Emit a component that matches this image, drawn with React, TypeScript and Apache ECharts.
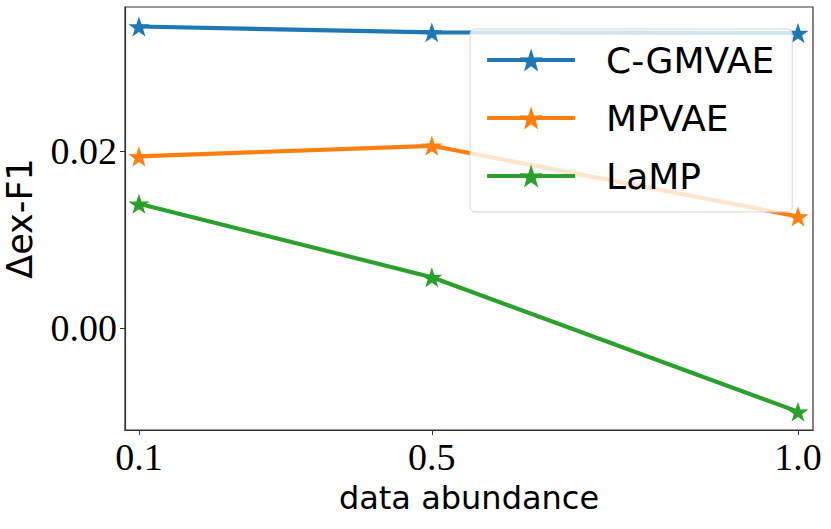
import React, { useEffect, useRef } from "react";
import * as echarts from "echarts";

const xValues = [0.1, 0.5, 1.0];
const seriesNames = ["C-GMVAE", "MPVAE", "LaMP"];
const cgmvae = [0.0340, 0.03334, 0.03327];
const mpvae = [0.01936, 0.02056, 0.01259];
const lamp = [0.01402, 0.00575, -0.0094];
const xTicks = [0.1, 0.5, 1.0];
const yTicks = [0.0, 0.02];
const colors = ["#1f77b4", "#ff7f0e", "#2ca02c"];

const STAR =
  "path://M50,0 L61.8,35.1 L97.6,34.5 L69.1,56.7 L79.4,90.5 L50,70 L20.6,90.5 L30.9,56.7 L2.4,34.5 L38.2,35.1 Z";

export default function App() {
  const ref = useRef<HTMLDivElement>(null);
  useEffect(() => {
    document.body.style.margin = "0";
    const chart = echarts.init(ref.current!, null, { renderer: "svg" });
    const values = [cgmvae, mpvae, lamp];
    const series = seriesNames.map((name, i) => ({
      name,
      type: "line",
      data: xValues.map((x, j) => [x, values[i][j]]),
      symbol: STAR,
      symbolSize: 21,
      symbolKeepAspect: true,
      showSymbol: true,
      lineStyle: { width: 4.2, color: colors[i] },
      itemStyle: { color: colors[i] },
      z: 2 + i,
    }));
    chart.setOption({
      animation: false,
      backgroundColor: "#ffffff",
      grid: {
        left: 125,
        top: 7,
        right: 18,
        bottom: 99,
        show: true,
        borderColor: "#333",
        borderWidth: 1.2,
        outerBoundsMode: "none",
        containLabel: false,
      },
      xAxis: {
        type: "value",
        min: 0.081,
        max: 1.0205,
        name: "data abundance",
        nameLocation: "middle",
        nameGap: 52,
        nameTextStyle: { fontFamily: "DejaVu Sans", fontSize: 32, color: "#000" },
        axisLine: { show: true, onZero: false, lineStyle: { color: "#333", width: 1.2 } },
        axisTick: { show: true, length: 5, customValues: xTicks, lineStyle: { color: "#333" } },
        axisLabel: {
          customValues: xTicks,
          margin: 8,
          fontFamily: "Liberation Serif",
          fontSize: 38,
          color: "#000",
          formatter: (v: number) => v.toFixed(1),
        },
        splitLine: { show: false },
      },
      yAxis: {
        type: "value",
        min: -0.01147,
        max: 0.0362,
        name: "\u0394ex-F1",
        nameLocation: "middle",
        nameRotate: 90,
        nameGap: 88,
        nameTextStyle: { fontFamily: "DejaVu Sans", fontSize: 35, color: "#000" },
        axisLine: { show: true, onZero: false, lineStyle: { color: "#333", width: 1.2 } },
        axisTick: { show: true, length: 5, customValues: yTicks, lineStyle: { color: "#333" } },
        axisLabel: {
          customValues: yTicks,
          margin: 8,
          fontFamily: "Liberation Serif",
          fontSize: 38,
          color: "#000",
          formatter: (v: number) => v.toFixed(2),
        },
        splitLine: { show: false },
      },
      legend: {
        data: seriesNames,
        orient: "vertical",
        left: 470,
        top: 29,
        padding: [11, 18, 16, 15],
        itemWidth: 88,
        itemHeight: 29,
        itemGap: 18,
        lineStyle: { width: 4.2 },
        backgroundColor: "rgba(255,255,255,0.8)",
        borderColor: "rgba(204,204,204,0.8)",
        borderWidth: 1,
        borderRadius: 5,
        textStyle: {
          fontFamily: "DejaVu Sans",
          fontSize: 36,
          lineHeight: 40,
          color: "#000",
          padding: [0, 0, 0, 26],
        },
      },
      series,
    });
    return () => chart.dispose();
  }, []);
  return <div ref={ref} style={{ width: 831, height: 529 }} />;
}
